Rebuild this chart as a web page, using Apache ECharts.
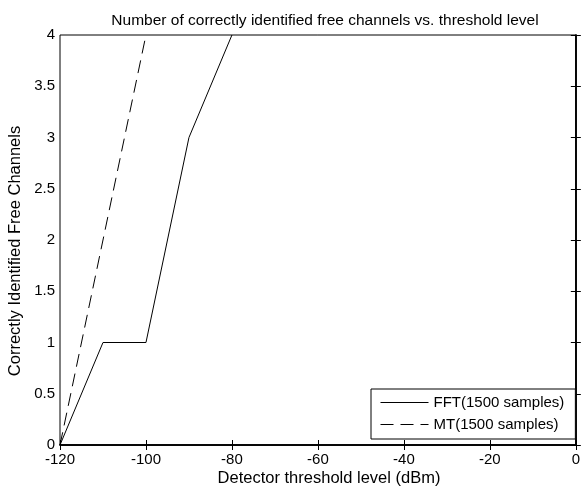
<!DOCTYPE html>
<html>
<head>
<meta charset="utf-8">
<script src="https://cdn.jsdelivr.net/npm/echarts@6/dist/echarts.min.js"></script>
<style>
  html, body { margin: 0; padding: 0; background: #fff; }
  #chart { width: 583px; height: 486px; }
</style>
</head>
<body>
<div id="chart"></div>
<script>
// Detector threshold levels (dBm) and identified channel counts
const thresholds = [-120, -110, -100, -90, -80];
const fftCounts = [0, 1, 1, 3, 4];
const mtThresholds = [-120, -110, -100];
const mtCounts = [0, 2, 4];

const seriesNames = ['FFT(1500 samples)', 'MT(1500 samples)'];
const titleText = 'Number of correctly identified free channels vs. threshold level';
const xLabel = 'Detector threshold level (dBm)';
const yLabel = 'Correctly Identified Free Channels';

const FONT = "'Liberation Sans', Arial, Helvetica, sans-serif";
const FS = 15;
const NAME_FS = 16.5;

const pair = (xs, ys) => xs.map((x, i) => [x, ys[i]]);

const chart = echarts.init(document.getElementById('chart'), null, { renderer: 'canvas' });

const xBase = {
  type: 'value', min: -120, max: 0, interval: 20,
  splitLine: { show: false },
  axisLine: { lineStyle: { color: '#000', width: 1.5 } },
  axisTick: { inside: true, length: 5, lineStyle: { color: '#000' } }
};
const yBase = {
  type: 'value', min: 0, max: 4, interval: 0.5,
  splitLine: { show: false },
  axisLine: { lineStyle: { color: '#000', width: 1.5 } },
  axisTick: { inside: true, length: 5, lineStyle: { color: '#000' } }
};

chart.setOption({
  animation: false,
  backgroundColor: '#fff',
  textStyle: { fontFamily: FONT },
  title: {
    text: titleText,
    left: 320, top: 8, textAlign: 'center',
    textStyle: { fontFamily: FONT, fontSize: 15.5, fontWeight: 'normal', color: '#000' }
  },
  grid: {
    left: 60, right: 3, top: 35, bottom: 41,
    show: true, borderColor: '#000', borderWidth: 1, backgroundColor: '#fff'
  },
  legend: {
    data: seriesNames,
    orient: 'vertical',
    left: 371, top: 389,
    padding: [6, 11, 7, 9],
    itemGap: 7,
    itemWidth: 48, itemHeight: 15,
    backgroundColor: '#fff',
    borderColor: '#000', borderWidth: 1,
    itemStyle: { opacity: 0 },
    lineStyle: { width: 1 },
    textStyle: { fontFamily: FONT, fontSize: FS, color: '#000' }
  },
  graphic: [
    {
      type: 'text', x: 329, y: 478,
      style: {
        text: xLabel, fill: '#000', font: NAME_FS + 'px ' + FONT,
        align: 'center', verticalAlign: 'middle'
      }
    },
    {
      type: 'text', x: 15, y: 251, rotation: Math.PI / 2,
      style: {
        text: yLabel, fill: '#000', font: NAME_FS + 'px ' + FONT,
        align: 'center', verticalAlign: 'middle'
      }
    }
  ],
  xAxis: [
    Object.assign({}, xBase, {
      position: 'bottom',
      axisLabel: { color: '#000', fontFamily: FONT, fontSize: FS, margin: 7 }
    }),
    Object.assign({}, xBase, { position: 'top', axisLabel: { show: false } })
  ],
  yAxis: [
    Object.assign({}, yBase, {
      position: 'left',
      axisLabel: { color: '#000', fontFamily: FONT, fontSize: FS, margin: 5 }
    }),
    Object.assign({}, yBase, { position: 'right', axisLabel: { show: false } })
  ],
  series: [
    {
      name: seriesNames[0], type: 'line',
      data: pair(thresholds, fftCounts),
      symbol: 'none',
      lineStyle: { color: '#000', width: 1, type: 'solid' },
      itemStyle: { color: '#000' }
    },
    {
      name: seriesNames[1], type: 'line',
      data: pair(mtThresholds, mtCounts),
      symbol: 'none',
      lineStyle: { color: '#000', width: 1, type: [13, 7] },
      itemStyle: { color: '#000' }
    }
  ]
});
</script>
</body>
</html>
